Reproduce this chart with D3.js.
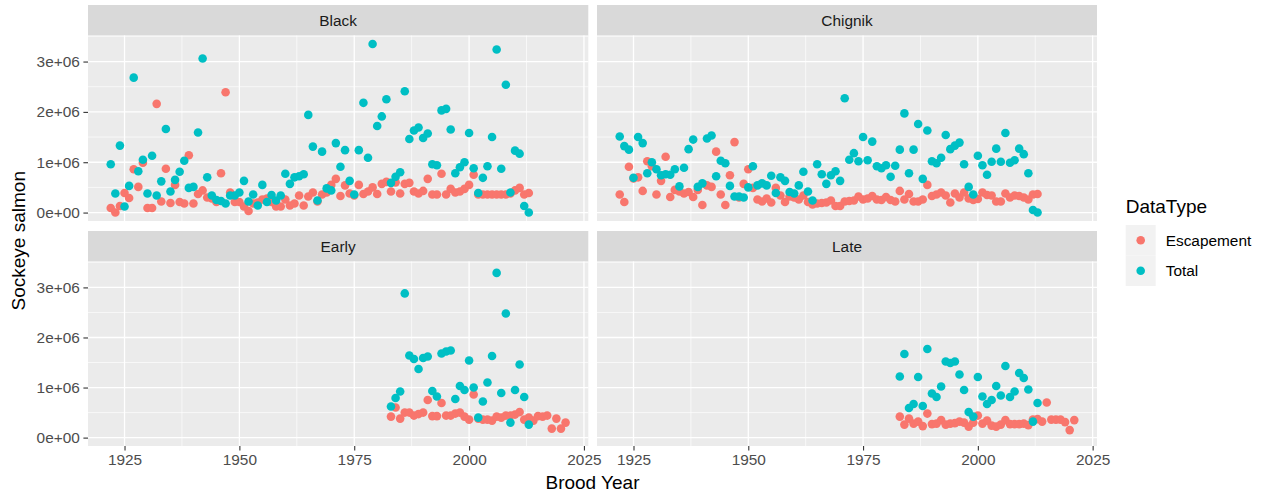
<!DOCTYPE html>
<html>
<head>
<meta charset="utf-8">
<script src="https://cdn.jsdelivr.net/npm/d3@7"></script>
<style>
  body { margin: 0; background: #ffffff; }
  text { font-family: "Liberation Sans", Arial, Helvetica, sans-serif; }
</style>
</head>
<body>
<svg id="chart" width="1265" height="495"></svg>
<script>
// ---- data (sockeye counts, millions of fish) ----
const stocks = ["Black", "Chignik", "Early", "Late"];
const dataTypes = ["Escapement", "Total"];
const typeColors = ["#F8766D", "#00BFC4"];
const xTicks = [1925, 1950, 1975, 2000, 2025];
const yTicks = [0, 1e6, 2e6, 3e6];
const yTickLabels = ["0e+00", "1e+06", "2e+06", "3e+06"];

const blackFirstYear = 1922;
const blackEscapement = [
  0.09, 0.00, 0.13, 0.39, 0.29, 0.86, 0.51, 0.99, 0.09, 0.09,
  2.16, 0.22, 0.87, 0.19, 0.55, 0.21, 0.18, 1.14, 0.18, 0.37,
  0.44, 0.30, 0.28, 0.21, 0.78, 2.39, 0.40, 0.21, 0.21, 0.12,
  0.03, 0.18, 0.20, 0.26, 0.28, 0.21, 0.12, 0.12, 0.26, 0.14,
  0.18, 0.34, 0.14, 0.32, 0.40, 0.22, 0.36, 0.40, 0.55, 0.67,
  0.33, 0.54, 0.38, 0.34, 0.55, 0.37, 0.42, 0.50, 0.37, 0.57,
  0.61, 0.42, 0.60, 0.38, 0.57, 0.59, 0.42, 0.38, 0.43, 0.67,
  0.36, 0.36, 0.77, 0.36, 0.47, 0.40, 0.42, 0.47, 0.55, 0.75,
  0.36, 0.36, 0.36, 0.36, 0.36, 0.36, 0.36, 0.38, 0.44, 0.49,
  0.36, 0.39
];
const blackTotal = [
  0.96, 0.38, 1.33, 0.12, 0.53, 2.68, 0.82, 1.05, 0.38, 1.13,
  0.34, 0.62, 1.66, 0.42, 0.65, 0.81, 1.03, 0.49, 0.51, 1.59,
  3.06, 0.70, 0.34, 0.25, 0.23, 0.18, 0.34, 0.34, 0.40, 0.63,
  0.22, 0.36, 0.14, 0.55, 0.21, 0.35, 0.24, 0.34, 0.77, 0.57,
  0.70, 0.72, 0.76, 1.94, 1.31, 0.24, 1.21, 0.48, 0.44, 1.38,
  0.91, 1.24, 0.63, 0.36, 1.24, 2.18, 1.09, 3.35, 1.72, 1.91,
  2.25, 0.59, 0.71, 0.80, 2.41, 1.46, 1.63, 1.69, 1.48, 1.57,
  0.96, 0.94, 2.03, 2.06, 1.65, 0.78, 0.90, 1.00, 1.58, 0.88,
  0.39, 0.69, 0.92, 1.50, 3.24, 0.87, 2.54, 0.40, 1.23, 1.17,
  0.13, 0.00
];

const chignikFirstYear = 1922;
const chignikEscapement = [
  0.36, 0.21, 0.91, 0.68, 0.70, 0.43, 1.02, 0.92, 0.36, 0.63,
  1.11, 0.31, 0.45, 0.42, 0.38, 0.41, 0.31, 0.45, 0.15, 0.54,
  0.51, 1.21, 0.36, 0.15, 0.74, 1.40, 0.30, 0.57, 0.86, 0.49,
  0.26, 0.22, 0.28, 0.20, 0.49, 0.34, 0.21, 0.32, 0.30, 0.26,
  0.34, 0.21, 0.16, 0.18, 0.19, 0.20, 0.24, 0.13, 0.13, 0.22,
  0.23, 0.24, 0.32, 0.26, 0.28, 0.33, 0.26, 0.25, 0.31, 0.25,
  0.22, 0.43, 0.26, 0.37, 0.22, 0.22, 0.26, 0.55, 0.33, 0.36,
  0.40, 0.34, 0.20, 0.38, 0.30, 0.40, 0.28, 0.25, 0.27, 0.40,
  0.35, 0.34, 0.22, 0.22, 0.38, 0.30, 0.34, 0.33, 0.30, 0.26,
  0.36, 0.37
];
const chignikTotal = [
  1.51, 1.32, 1.25, 0.69, 1.50, 1.38, 0.78, 1.00, 0.86, 0.74,
  0.76, 0.75, 0.86, 0.52, 0.89, 1.26, 1.45, 0.51, 0.58, 1.47,
  1.53, 0.72, 1.03, 0.98, 0.53, 0.32, 0.32, 0.30, 0.50, 0.92,
  0.54, 0.58, 0.54, 0.73, 0.39, 0.70, 0.63, 0.41, 0.38, 0.54,
  0.81, 0.42, 0.24, 0.96, 0.76, 0.57, 0.74, 0.82, 0.63, 2.27,
  1.05, 1.18, 1.02, 1.50, 1.04, 1.41, 0.92, 0.88, 0.94, 0.71,
  0.93, 1.25, 1.97, 0.78, 1.25, 1.76, 0.67, 1.63, 1.02, 0.98,
  1.09, 1.54, 1.26, 1.33, 1.39, 0.96, 0.51, 0.36, 1.13, 0.94,
  0.75, 1.01, 1.27, 1.01, 1.58, 0.99, 1.04, 1.27, 1.16, 0.78,
  0.05, 0.00
];

const earlyFirstYear = 1983;
const earlyEscapement = [
  0.42, 0.60, 0.38, 0.50, 0.50, 0.44, 0.47, 0.50, 0.75, 0.43,
  0.43, 0.69, 0.44, 0.44, 0.48, 0.50, 0.42, 0.36, 0.86, 0.38,
  0.36, 0.36, 0.34, 0.42, 0.40, 0.44, 0.44, 0.46, 0.51, 0.36,
  0.40, 0.34, 0.43, 0.42, 0.44, 0.18, 0.38, 0.18, 0.30
];
const earlyTotal = [
  0.62, 0.79, 0.92, 2.88, 1.64, 1.57, 1.37, 1.59, 1.62, 0.93,
  0.82, 1.68, 1.72, 1.74, 0.77, 1.03, 0.95, 1.54, 1.00, 0.40,
  0.72, 1.10, 1.63, 3.29, 0.89, 2.48, 0.30, 0.95, 1.46, 0.81,
  0.26
];

const lateFirstYear = 1983;
const lateEscapement = [
  0.42, 0.26, 0.38, 0.28, 0.32, 0.23, 0.48, 0.27, 0.28, 0.35,
  0.26, 0.28, 0.29, 0.32, 0.30, 0.22, 0.30, 0.44, 0.28, 0.34,
  0.24, 0.22, 0.26, 0.35, 0.27, 0.27, 0.27, 0.28, 0.25, 0.36,
  0.37, 0.32, 0.70, 0.36, 0.36, 0.36, 0.31, 0.15, 0.35
];
const lateTotal = [
  1.22, 1.67, 0.59, 0.67, 1.21, 0.63, 1.77, 0.88, 0.81, 1.02,
  1.52, 1.49, 1.52, 1.26, 0.95, 0.51, 0.42, 1.21, 0.82, 0.67,
  0.75, 1.03, 0.84, 1.43, 0.81, 0.92, 1.29, 1.19, 0.96, 0.32,
  0.69
];

// ---- long table: one row per stock / type / brood year ----
const series = {
  Black:   [blackFirstYear,   blackEscapement,   blackTotal],
  Chignik: [chignikFirstYear, chignikEscapement, chignikTotal],
  Early:   [earlyFirstYear,   earlyEscapement,   earlyTotal],
  Late:    [lateFirstYear,    lateEscapement,    lateTotal]
};
const rows = [];
dataTypes.forEach((type, ti) => {
  stocks.forEach(stock => {
    const [first, esc, tot] = series[stock];
    const vals = ti === 0 ? esc : tot;
    vals.forEach((v, i) => rows.push({ stock, type, year: first + i, value: v * 1e6 }));
  });
});

// ---- layout ----
const svg = d3.select("#chart");
const font = '"Liberation Sans", Arial, Helvetica, sans-serif';
const colsX = [[88, 588.3], [597, 1097]];
const rowsY = [
  { strip: [5, 35.5],   panel: [35.5, 221] },
  { strip: [231, 261.5], panel: [261.5, 446] }
];
const smallSize = 15.4, titleSize = 19;

// shared scales (fixed facets), ggplot-style 5% expansion
const [xMin, xMax] = d3.extent(rows, d => d.year);
const xPad = (xMax - xMin) * 0.05;
const [yMin, yMax] = d3.extent(rows, d => d.value);
const yPad = (yMax - yMin) * 0.05;
const color = d3.scaleOrdinal().domain(dataTypes).range(typeColors);

stocks.forEach((stock, si) => {
  const c = si % 2, r = Math.floor(si / 2);
  const [x0, x1] = colsX[c];
  const { strip, panel } = rowsY[r];
  const x = d3.scaleLinear().domain([xMin - xPad, xMax + xPad]).range([x0, x1]);
  const y = d3.scaleLinear().domain([yMin - yPad, yMax + yPad]).range([panel[1], panel[0]]);

  const g = svg.append("g");
  // strip
  g.append("rect").attr("x", x0).attr("y", strip[0]).attr("width", x1 - x0)
    .attr("height", strip[1] - strip[0]).attr("fill", "#D9D9D9");
  g.append("text").attr("x", (x0 + x1) / 2).attr("y", (strip[0] + strip[1]) / 2)
    .attr("dy", "0.36em").attr("text-anchor", "middle")
    .attr("font-size", smallSize).attr("fill", "#1A1A1A").text(stock);

  // panel background
  g.append("rect").attr("x", x0).attr("y", panel[0]).attr("width", x1 - x0)
    .attr("height", panel[1] - panel[0]).attr("fill", "#EBEBEB");

  // minor grid
  const yMinor = yTicks.slice(0, -1).map((t, i) => (t + yTicks[i + 1]) / 2)
    .concat([yTicks[yTicks.length - 1] + 5e5]).filter(v => y(v) >= panel[0] && y(v) <= panel[1]);
  const xMinor = xTicks.slice(0, -1).map((t, i) => (t + xTicks[i + 1]) / 2);
  g.selectAll(".ymin").data(yMinor).join("line")
    .attr("x1", x0).attr("x2", x1).attr("y1", d => y(d)).attr("y2", d => y(d))
    .attr("stroke", "#FFFFFF").attr("stroke-width", 0.65);
  g.selectAll(".xmin").data(xMinor).join("line")
    .attr("y1", panel[0]).attr("y2", panel[1]).attr("x1", d => x(d)).attr("x2", d => x(d))
    .attr("stroke", "#FFFFFF").attr("stroke-width", 0.65);
  // major grid
  g.selectAll(".ymaj").data(yTicks).join("line")
    .attr("x1", x0).attr("x2", x1).attr("y1", d => y(d)).attr("y2", d => y(d))
    .attr("stroke", "#FFFFFF").attr("stroke-width", 1.3);
  g.selectAll(".xmaj").data(xTicks.filter(t => x(t) <= x1)).join("line")
    .attr("y1", panel[0]).attr("y2", panel[1]).attr("x1", d => x(d)).attr("x2", d => x(d))
    .attr("stroke", "#FFFFFF").attr("stroke-width", 1.3);

  // points: escapement first, total on top
  const pts = rows.filter(d => d.stock === stock);
  g.append("g").selectAll("circle").data(pts).join("circle")
    .attr("cx", d => x(d.year)).attr("cy", d => y(d.value)).attr("r", 4.3)
    .attr("fill", d => color(d.type));

  // y axis on the left column
  if (c === 0) {
    const ya = d3.axisLeft(y).tickValues(yTicks).tickSize(4.6).tickPadding(3.6)
      .tickFormat((d, i) => yTickLabels[i]);
    const ag = svg.append("g").attr("transform", `translate(${x0},0)`).call(ya);
    ag.select(".domain").remove();
    ag.selectAll("line").attr("stroke", "#333333").attr("stroke-width", 1.1);
    ag.selectAll("text").attr("fill", "#4D4D4D").attr("font-size", smallSize)
      .attr("font-family", font);
  }
  // x axis on the bottom row
  if (r === 1) {
    const xa = d3.axisBottom(x).tickValues(xTicks).tickSize(4.6).tickPadding(3.2)
      .tickFormat(d3.format("d"));
    const ag = svg.append("g").attr("transform", `translate(0,${panel[1]})`).call(xa);
    ag.select(".domain").remove();
    ag.selectAll("line").attr("stroke", "#333333").attr("stroke-width", 1.1);
    ag.selectAll("text").attr("fill", "#4D4D4D").attr("font-size", smallSize)
      .attr("font-family", font);
  }
});

// axis titles
svg.append("text").attr("x", (colsX[0][0] + colsX[1][1]) / 2).attr("y", 489)
  .attr("text-anchor", "middle").attr("font-size", titleSize).attr("fill", "#000")
  .text("Brood Year");
svg.append("text")
  .attr("transform", `translate(25,${(rowsY[0].panel[0] + rowsY[1].panel[1]) / 2}) rotate(-90)`)
  .attr("text-anchor", "middle").attr("font-size", titleSize).attr("fill", "#000")
  .text("Sockeye salmon");

// legend
const lg = svg.append("g").attr("transform", "translate(1125.7,0)");
lg.append("text").attr("x", 0).attr("y", 213).attr("font-size", titleSize).attr("fill", "#000")
  .text("DataType");
dataTypes.forEach((t, i) => {
  const top = 225 + i * 30.5;
  lg.append("rect").attr("x", 0).attr("y", top).attr("width", 30).attr("height", 30.5)
    .attr("fill", "#F2F2F2");
  lg.append("circle").attr("cx", 15).attr("cy", top + 15.25).attr("r", 4.3).attr("fill", color(t));
  lg.append("text").attr("x", 40).attr("y", top + 15.25).attr("dy", "0.36em")
    .attr("font-size", smallSize).attr("fill", "#000").text(t);
});
</script>
</body>
</html>
